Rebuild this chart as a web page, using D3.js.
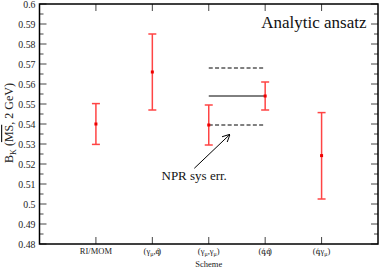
<!DOCTYPE html>
<html><head><meta charset="utf-8">
<script src="https://cdn.jsdelivr.net/npm/d3@7"></script>
<style>body{margin:0;background:#fff}svg{display:block}</style>
</head><body>
<script>
const schemes = ["RI/MOM", "(γμ,q/)", "(γμ,γμ)", "(q/,q/)", "(q/,γμ)"];
const centers = [0.540, 0.566, 0.5395, 0.554, 0.5242];
const errLow = [0.5298, 0.547, 0.5295, 0.547, 0.5025];
const errHigh = [0.5502, 0.585, 0.5495, 0.561, 0.5457];
const refSolid = 0.554;
const refDashed = [0.568, 0.5395];
const yTicks = [0.48,0.49,0.5,0.51,0.52,0.53,0.54,0.55,0.56,0.57,0.58,0.59,0.6];

const W = 382, H = 270;
const svg = d3.select("body").append("svg").attr("width", W).attr("height", H);
const x = d3.scaleLinear().domain([0, 6]).range([39.5, 378]);
const y = d3.scaleLinear().domain([0.48, 0.6]).range([244, 4]);

// ticks
const minor = d3.range(0.48, 0.6001, 0.005);
const g = svg.append("g");
minor.forEach(v => {
  const isMajor = Math.abs(Math.round(v*100) - v*100) < 1e-6;
  const len = isMajor ? 7 : 4;
  g.append("line").attr("x1", x(0)).attr("x2", x(0)+len).attr("y1", y(v)).attr("y2", y(v)).attr("stroke", "#444");
  g.append("line").attr("x1", x(6)).attr("x2", x(6)-len).attr("y1", y(v)).attr("y2", y(v)).attr("stroke", "#444");
});
schemes.forEach((s, i) => {
  g.append("line").attr("x1", x(i+1)).attr("x2", x(i+1)).attr("y1", y(0.48)).attr("y2", y(0.48)-7).attr("stroke", "#444");
  g.append("line").attr("x1", x(i+1)).attr("x2", x(i+1)).attr("y1", y(0.6)).attr("y2", y(0.6)+7).attr("stroke", "#444");
});
// frame
svg.append("rect").attr("x", x(0)).attr("y", y(0.6)).attr("width", x(6)-x(0)).attr("height", y(0.48)-y(0.6))
  .attr("fill", "none").attr("stroke", "#000").attr("stroke-width", 1.5);

// y tick labels
yTicks.forEach(v => {
  svg.append("text").attr("x", 35.5).attr("y", y(v)+3.5).attr("text-anchor", "end")
    .attr("font-size", 9.8).attr("fill", "#222").text(String(+v.toFixed(2)));
});

// x tick labels: "μ" as subscript and "q/" as slashed q
function richLabel(t, s) {
  let i = 0, sub = false;
  while (i < s.length) {
    const ch = s[i];
    if (ch === "μ") {
      t.append("tspan").text("μ").attr("font-size", 6).attr("dy", 2);
      sub = true; i++; continue;
    }
    let ts;
    if (s.substr(i, 2) === "q/") {
      ts = t.append("tspan").text("q");
      if (sub) { ts.attr("dy", -2); sub = false; }
      t.append("tspan").text("/").attr("dx", -3.6).attr("font-size", 7.5);
      i += 2; continue;
    }
    ts = t.append("tspan").text(ch);
    if (sub) { ts.attr("dy", -2); sub = false; }
    i++;
  }
}
schemes.forEach((s, i) => {
  const t = svg.append("text").attr("x", x(i+1)).attr("y", 254).attr("text-anchor", "middle")
    .attr("font-size", 8.5).attr("fill", "#222");
  if (s === "RI/MOM") t.text(s); else richLabel(t, s);
});
svg.append("text").attr("x", x(3)).attr("y", 267).attr("text-anchor", "middle").attr("font-size", 8.5).attr("fill", "#222").text("Scheme");

// y label
const yl = svg.append("text").attr("transform", "translate(13,123) rotate(-90)").attr("text-anchor", "middle")
  .attr("font-size", 12).attr("fill", "#222");
yl.append("tspan").text("B");
yl.append("tspan").text("K").attr("font-size", 8).attr("dy", 3);
yl.append("tspan").text(" (").attr("dy", -3);
yl.append("tspan").text("MS").attr("text-decoration", "overline");
yl.append("tspan").text(", 2 GeV)");

// reference lines
svg.append("line").attr("x1", x(3)).attr("x2", x(4)).attr("y1", y(refSolid)).attr("y2", y(refSolid)).attr("stroke", "#000").attr("stroke-width", 1);
refDashed.forEach(v => {
  svg.append("line").attr("x1", x(3)).attr("x2", x(4)).attr("y1", y(v)).attr("y2", y(v))
    .attr("stroke", "#000").attr("stroke-width", 1).attr("stroke-dasharray", "4,2.3");
});

// error bars
const eb = svg.append("g").attr("stroke", "#f44").attr("stroke-width", 1.5);
schemes.forEach((s, i) => {
  const cx = x(i+1);
  eb.append("line").attr("x1", cx).attr("x2", cx).attr("y1", y(errLow[i])).attr("y2", y(errHigh[i]));
  eb.append("line").attr("x1", cx-4).attr("x2", cx+4).attr("y1", y(errLow[i])).attr("y2", y(errLow[i]));
  eb.append("line").attr("x1", cx-4).attr("x2", cx+4).attr("y1", y(errHigh[i])).attr("y2", y(errHigh[i]));
  svg.append("rect").attr("x", cx-1.5).attr("y", y(centers[i])-1.5).attr("width", 3).attr("height", 3).attr("fill", "#e00");
});

// arrow + annotation
svg.append("defs").append("marker").attr("id", "ah").attr("viewBox", "0 0 10 10").attr("refX", 10).attr("refY", 5)
  .attr("markerWidth", 8).attr("markerHeight", 8).attr("orient", "auto").attr("markerUnits", "userSpaceOnUse")
  .append("path").attr("d", "M0,0 L10,5 L0,10").attr("fill", "none").attr("stroke", "#000").attr("stroke-width", 1.2);
svg.append("line").attr("x1", 194.3).attr("y1", 168.3).attr("x2", 230).attr("y2", 134.3)
  .attr("stroke", "#000").attr("stroke-width", 1).attr("marker-end", "url(#ah)");
svg.append("text").attr("x", 161.5).attr("y", 180).attr("font-size", 13).attr("fill", "#111").text("NPR sys err.");
svg.append("text").attr("x", 366.5).attr("y", 28).attr("text-anchor", "end").attr("font-size", 17).attr("fill", "#111").text("Analytic ansatz");

svg.selectAll("text").attr("font-family", "Liberation Serif");
</script>
</body></html>
